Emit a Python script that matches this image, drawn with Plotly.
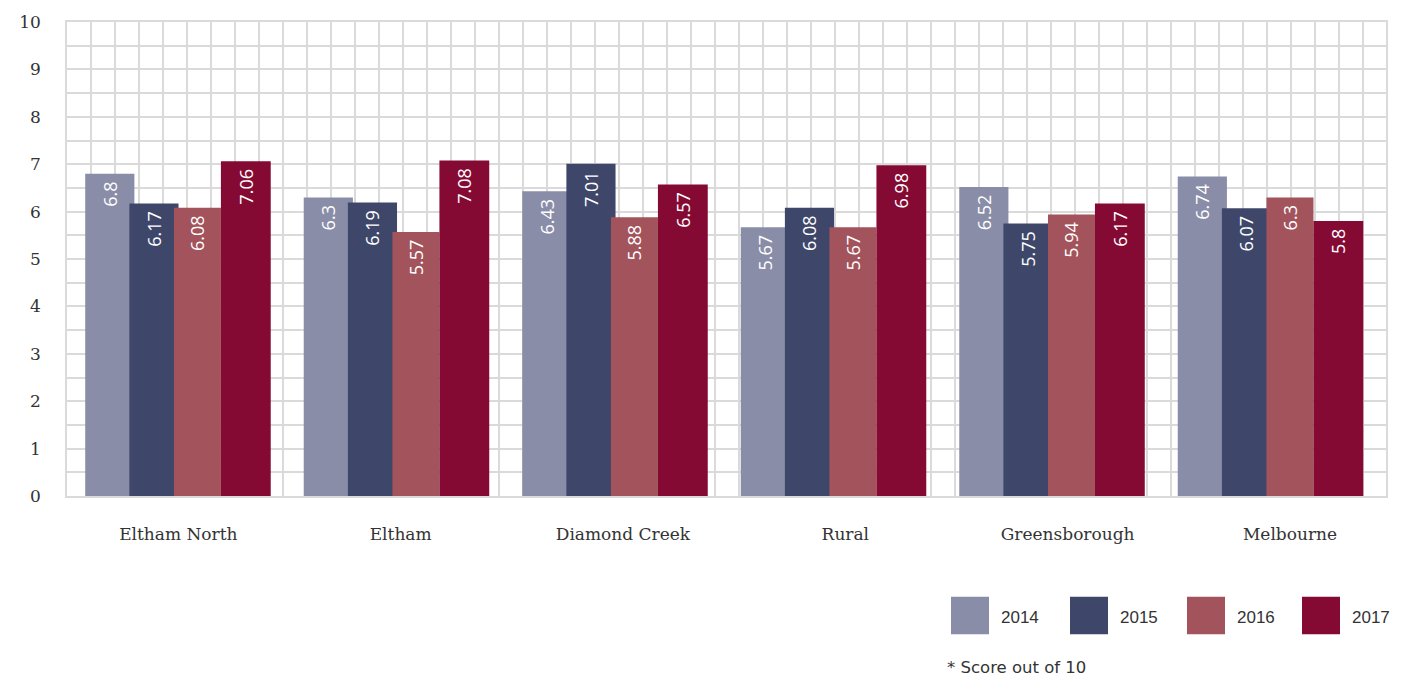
import plotly.graph_objects as go

# ---- data ----
categories = ["Eltham North", "Eltham", "Diamond Creek", "Rural", "Greensborough", "Melbourne"]
years = ["2014", "2015", "2016", "2017"]
v2014 = [6.8, 6.3, 6.43, 5.67, 6.52, 6.74]
v2015 = [6.17, 6.19, 7.01, 6.08, 5.75, 6.07]
v2016 = [6.08, 5.57, 5.88, 5.67, 5.94, 6.3]
v2017 = [7.06, 7.08, 6.57, 6.98, 6.17, 5.8]
y_ticks = list(range(0, 11))
footnote = "* Score out of 10"

series = [v2014, v2015, v2016, v2017]
colors = ["#8A8DA7", "#3E476A", "#A2535B", "#850A33"]
offsets = [-0.426, -0.224, -0.020, 0.195]
widths = [0.225, 0.225, 0.215, 0.228]

W, H = 1404, 680
ML, MR, MT, MB = 67, 18, 16, 184
PW, PH = W - ML - MR, H - MT - MB

x_idx = list(range(len(categories)))
x_range = [-0.5094, 5.527]

fig = go.Figure()
for name, vals, col, off, wd in zip(years, series, colors, offsets, widths):
    fig.add_trace(go.Bar(
        x=x_idx, y=vals, name=name,
        marker=dict(color=col, line=dict(width=0)),
        offset=off, width=wd,
        text=[str(v) + "\u00a0" for v in vals],
        textposition="inside", insidetextanchor="end", textangle=-90,
        textfont=dict(family="Open Sans", size=18, color="white"),
        constraintext="none", cliponaxis=False,
        showlegend=False,
    ))

grid_col = "#dadada"
label_scale = 1.0175  # category label spacing vs bar group spacing

fig.update_layout(
    width=W, height=H,
    margin=dict(l=ML, r=MR, t=MT, b=MB),
    paper_bgcolor="white", plot_bgcolor="white",
    barmode="overlay",
    xaxis=dict(
        range=x_range,
        tickmode="array",
        tickvals=[i * label_scale for i in x_idx],
        ticktext=categories,
        ticks="outside", ticklen=22, tickcolor="rgba(0,0,0,0)",
        tickfont=dict(family="DejaVu Serif", size=17, color="#333333"),
        showgrid=False, zeroline=False,
        showline=True, mirror=True, linecolor=grid_col, linewidth=1.5,
        minor=dict(tickmode="linear", tick0=x_range[0], dtick=24 / 218.5,
                   showgrid=True, gridcolor=grid_col, gridwidth=1.5, ticklen=0),
    ),
    yaxis=dict(
        range=[0, 10],
        tickmode="array", tickvals=y_ticks, ticktext=[str(t) for t in y_ticks],
        ticks="outside", ticklen=21, tickcolor="rgba(0,0,0,0)",
        tickfont=dict(family="DejaVu Serif", size=17, color="#333333"),
        showgrid=True, gridcolor=grid_col, gridwidth=1.5, zeroline=False,
        showline=True, mirror=True, linecolor=grid_col, linewidth=1.5,
        minor=dict(tickmode="linear", tick0=0, dtick=0.5, showgrid=True,
                   gridcolor=grid_col, gridwidth=1.5, ticklen=0),
    ),
)

# ---- custom legend (large swatches), pixel -> paper conversion ----
def px(x):
    return (x - ML) / PW

def py(y):
    return (H - MB - y) / PH

sw_left = [951, 1070, 1187, 1302]
for name, col, xl in zip(years, colors, sw_left):
    fig.add_shape(type="rect", xref="paper", yref="paper",
                  x0=px(xl), x1=px(xl + 38), y0=py(636), y1=py(598),
                  fillcolor=col, line=dict(width=0))
    fig.add_annotation(xref="paper", yref="paper", x=px(xl + 48), y=py(619),
                       text=name, showarrow=False, xanchor="left", yanchor="middle",
                       font=dict(family="Liberation Sans", size=17, color="#333333"))

fig.add_annotation(xref="paper", yref="paper", x=px(945), y=py(670),
                   text=footnote, showarrow=False, xanchor="left", yanchor="middle",
                   font=dict(family="DejaVu Sans", size=16.5, color="#333333"))

fig.write_html("out.html")
